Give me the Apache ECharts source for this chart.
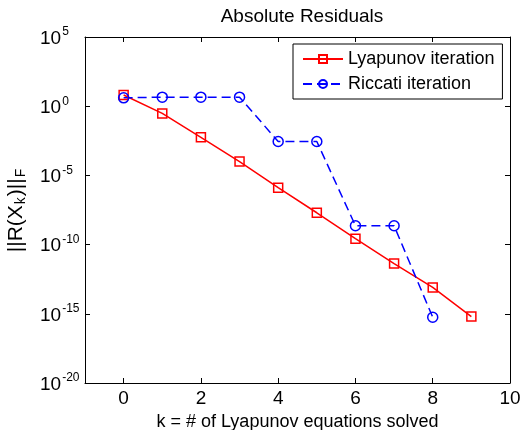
<!DOCTYPE html>
<html>
<head>
<meta charset="utf-8">
<script src="https://cdn.jsdelivr.net/npm/echarts@6/dist/echarts.min.js"></script>
<style>
  html, body { margin: 0; padding: 0; background: #fff; }
  #chart { width: 531px; height: 430px; }
</style>
</head>
<body>
<div id="chart"></div>
<script>
// k values (number of Lyapunov equations solved)
const kValues = [0, 1, 2, 3, 4, 5, 6, 7, 8, 9];
// residual norms
const lyapunov = [6.5, 0.3, 5.6e-3, 1e-4, 1.3e-6, 2e-8, 2.7e-10, 4.3e-12, 8e-14, 6.3e-16];
const riccati = [4, 4.5, 4.5, 4.5, 2.8e-3, 2.8e-3, 2.3e-9, 2.3e-9, 5.6e-16];
const xTicks = [0, 2, 4, 6, 8, 10];
const yTicks = [1e-20, 1e-15, 1e-10, 1e-5, 1, 1e5];

const font = '"Liberation Sans", Arial, sans-serif';

const chart = echarts.init(document.getElementById('chart'));

const pairs = (vals) => vals.map((v, i) => [kValues[i], v]);

const option = {
  animation: false,
  backgroundColor: '#fff',
  textStyle: { fontFamily: font, color: '#000' },
  title: {
    text: 'Absolute Residuals',
    left: 297,
    top: 2,
    textAlign: 'center',
    textStyle: { fontFamily: font, fontSize: 19, fontWeight: 'normal', color: '#000' }
  },
  grid: { left: 85, right: 21, top: 37, bottom: 47, outerBoundsMode: 'none', containLabel: false },
  legend: {
    left: 293,
    top: 44,
    orient: 'vertical',
    borderColor: '#000',
    borderWidth: 1,
    backgroundColor: '#fff',
    padding: [6, 8, 6, 9],
    itemGap: 7,
    itemWidth: 40,
    itemHeight: 10,
    textStyle: { fontFamily: font, fontSize: 18, color: '#000' },
    data: ['Lyapunov iteration', 'Riccati iteration']
  },
  xAxis: [{
    type: 'value',
    min: -1,
    max: 10,
    name: 'k = # of Lyapunov equations solved',
    nameLocation: 'middle',
    nameGap: 27,
    nameTextStyle: { fontFamily: font, fontSize: 18, color: '#000' },
    axisLine: { onZero: false, lineStyle: { color: '#000', width: 1 } },
    axisTick: { inside: true, length: 5, customValues: xTicks, lineStyle: { color: '#000' } },
    axisLabel: { customValues: xTicks, fontFamily: font, fontSize: 19, color: '#000', margin: 6 },
    splitLine: { show: false }
  }, {
    type: 'value',
    position: 'top',
    min: -1,
    max: 10,
    axisLine: { onZero: false, lineStyle: { color: '#000', width: 1 } },
    axisTick: { inside: true, length: 5, customValues: xTicks, lineStyle: { color: '#000' } },
    axisLabel: { show: false },
    splitLine: { show: false }
  }],
  yAxis: [{
    type: 'log',
    logBase: 10,
    min: 1e-20,
    max: 1e5,
    name: '{b|||R(X}{s|k}{b|)||}{s|F}',
    nameLocation: 'middle',
    nameRotate: 90,
    nameGap: 57,
    nameTextStyle: {
      rich: {
        b: { fontFamily: font, fontSize: 21, color: '#000', lineHeight: 24 },
        s: { fontFamily: font, fontSize: 14, color: '#000', verticalAlign: 'bottom', lineHeight: 14, padding: [10, 1, 0, 1] }
      }
    },
    axisLine: { onZero: false, lineStyle: { color: '#000', width: 1 } },
    axisTick: { inside: true, length: 5, customValues: yTicks, lineStyle: { color: '#000' } },
    axisLabel: {
      customValues: yTicks,
      align: 'left',
      margin: 45,
      formatter: (v) => '{b|10}{s|' + Math.round(Math.log10(v)) + '}',
      rich: {
        b: { fontFamily: font, fontSize: 19, color: '#000', lineHeight: 22, verticalAlign: 'bottom' },
        s: { fontFamily: font, fontSize: 12, color: '#000', verticalAlign: 'top', lineHeight: 12, padding: [0, 0, 10, 1] }
      }
    },
    splitLine: { show: false },
    minorTick: { show: false }
  }, {
    type: 'log',
    logBase: 10,
    position: 'right',
    min: 1e-20,
    max: 1e5,
    axisLine: { show: true, onZero: false, lineStyle: { color: '#000', width: 1 } },
    axisTick: { show: true, inside: true, length: 5, customValues: yTicks, lineStyle: { color: '#000' } },
    axisLabel: { show: false },
    splitLine: { show: false }
  }],
  series: [{
    name: 'Lyapunov iteration',
    type: 'line',
    data: pairs(lyapunov),
    symbol: 'rect',
    symbolSize: 9,
    lineStyle: { color: '#ff0000', width: 1.5 },
    itemStyle: { color: 'rgba(0,0,0,0)', borderColor: '#ff0000', borderWidth: 1.5 }
  }, {
    name: 'Riccati iteration',
    type: 'line',
    data: pairs(riccati),
    symbol: 'circle',
    symbolSize: 10,
    lineStyle: { color: '#0000ff', width: 1.5, type: [9, 5] },
    itemStyle: { color: 'rgba(0,0,0,0)', borderColor: '#0000ff', borderWidth: 1.5 }
  }]
};

chart.setOption(option);
</script>
</body>
</html>
